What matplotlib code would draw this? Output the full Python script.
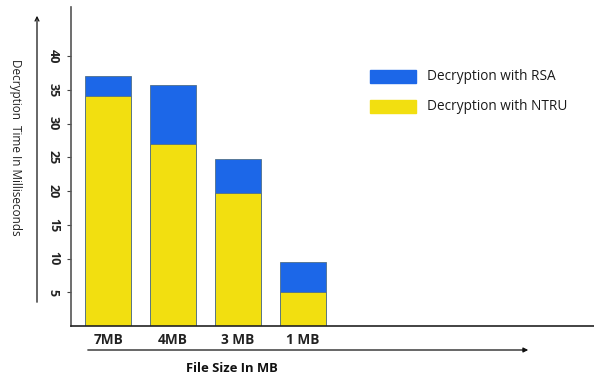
import matplotlib.pyplot as plt
from matplotlib.patches import Rectangle, FancyArrowPatch

plt.rcParams['font.family'] = ['Open Sans', 'DejaVu Sans']

sizes = ['7MB', '4MB', '3 MB', '1 MB']
rsa_ms = [37.0, 35.7, 24.8, 9.5]
ntru_ms = [34.1, 27.0, 19.7, 5.0]
y_ticks = [5, 10, 15, 20, 25, 30, 35, 40]

blue = '#1c67e8'
yellow = '#f2df10'

fig = plt.figure(figsize=(5.94, 3.74), dpi=100)
W, H = 594, 374
ax = fig.add_axes([71 / W, 1 - 326 / H, (W - 71) / W, (326 - 7) / H])

x = range(len(sizes))
# RSA bar is drawn full height, NTRU is laid over it from the base
ax.bar(x, rsa_ms, width=0.71, color=blue, edgecolor='#50708a', linewidth=0.6)
ax.bar(x, ntru_ms, width=0.71, color=yellow, edgecolor='#50708a', linewidth=0.6)

ax.set_xlim(-0.57, 7.48)
ax.set_ylim(0, 47.3)
ax.set_xticks(list(x))
ax.set_xticklabels(sizes, fontsize=9.8, fontweight='bold', color='#222222')
ax.set_yticks(y_ticks)
ax.set_yticklabels([str(v) for v in y_ticks], rotation=-90, fontsize=9,
                   fontweight='bold', color='#222222', va='center')
ax.tick_params(axis='x', length=0, pad=5)
ax.tick_params(axis='y', length=3, width=0.8, color='#444444', pad=5)
for side in ['top', 'right']:
    ax.spines[side].set_visible(False)
ax.spines['left'].set_color('#555555')
ax.spines['bottom'].set_color('#222222')
ax.spines['left'].set_linewidth(1.2)
ax.spines['bottom'].set_linewidth(1.2)

# axis arrows outside the plot area
fig.add_artist(FancyArrowPatch((85 / W, 1 - 350 / H), (531 / W, 1 - 350 / H),
                               transform=fig.transFigure, arrowstyle='-|>',
                               mutation_scale=7, color='#111111', lw=0.9))
fig.add_artist(FancyArrowPatch((37 / W, 1 - 305 / H), (37 / W, 1 - 13 / H),
                               transform=fig.transFigure, arrowstyle='->',
                               mutation_scale=7, color='#111111', lw=0.9))

fig.text(232 / W, 1 - 368 / H, 'File Size In MB', fontsize=9.4, fontweight='bold',
         ha='center', va='center', color='#111111')
fig.text(15 / W, 1 - 147 / H, 'Decryption  Time In Milliseconds', fontsize=8.5,
         rotation=-90, ha='center', va='center', color='#222222')

# legend
for ytop, col, label in [(70, blue, 'Decryption with RSA'),
                         (100, yellow, 'Decryption with NTRU')]:
    fig.add_artist(Rectangle((370 / W, 1 - (ytop + 13) / H), 46 / W, 13 / H,
                             transform=fig.transFigure, color=col))
    fig.text(427 / W, 1 - (ytop + 7) / H, label, fontsize=9.8,
             ha='left', va='center', color='#1a1a1a')

fig.savefig('out.png', dpi=100)
